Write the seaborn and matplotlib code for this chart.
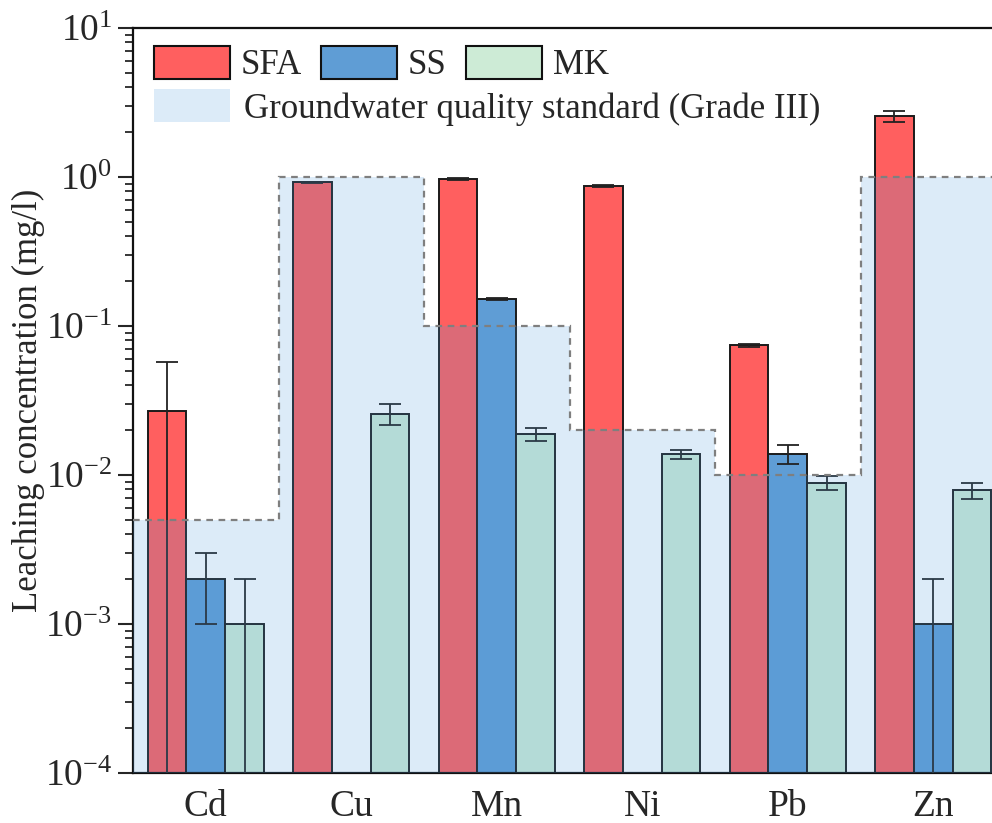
import numpy as np
import pandas as pd
import matplotlib
matplotlib.use("Agg")
import matplotlib.pyplot as plt
import seaborn as sns
from matplotlib.patches import Patch

# ---------------- data ----------------
metals = ["Cd", "Cu", "Mn", "Ni", "Pb", "Zn"]
materials = ["SFA", "SS", "MK"]
sfa = [0.027, 0.92, 0.97, 0.87, 0.074, 2.55]
sfa_err = [0.030, 0.01, 0.012, 0.008, 0.002, 0.22]
ss = [0.002, np.nan, 0.152, np.nan, 0.0138, 0.001]
ss_err = [0.001, np.nan, 0.003, np.nan, 0.002, 0.001]
mk = [0.001, 0.0258, 0.0188, 0.0138, 0.0089, 0.0079]
mk_err = [0.001, 0.004, 0.002, 0.001, 0.001, 0.001]
standard = [0.005, 1.0, 0.1, 0.02, 0.01, 1.0]
standard_label = "Groundwater quality standard (Grade III)"
ylabel = "Leaching concentration (mg/l)"

colors = {"SFA": "#ff5f5f", "SS": "#5f9dd5", "MK": "#cdebd6"}
fill_color = "#509bdc"

df = pd.DataFrame({
    "metal": metals * 3,
    "material": sum([[m] * len(metals) for m in materials], []),
    "value": sfa + ss + mk,
    "err": sfa_err + ss_err + mk_err,
})

# ---------------- style ----------------
sns.set_style("ticks")
plt.rcParams["font.family"] = ["Liberation Serif", "DejaVu Serif"]
plt.rcParams["mathtext.fontset"] = "custom"
plt.rcParams["mathtext.rm"] = "Liberation Serif"
plt.rcParams["mathtext.it"] = "Liberation Serif:italic"

fig = plt.figure(figsize=(9.92, 8.23), dpi=100)
ax = fig.add_axes([133 / 992, 50 / 823, 873 / 992, 745 / 823])

sns.barplot(data=df.dropna(subset=["value"]), x="metal", y="value", hue="material",
            order=metals, hue_order=materials, palette=colors, width=0.8,
            saturation=1, errorbar=None, edgecolor="#1a1a1a", linewidth=1.4,
            ax=ax, legend=False, zorder=2)
ax.set_yscale("log")

# error bars, positioned from the drawn bars
for container, mat in zip(ax.containers, materials):
    sub = df[df.material == mat].set_index("metal")
    for bar in container:
        cx = bar.get_x() + bar.get_width() / 2
        name = metals[int(round(cx))]
        v, e = sub.loc[name, "value"], sub.loc[name, "err"]
        if np.isnan(v):
            continue
        ax.errorbar(cx, v, yerr=e, fmt="none", ecolor="#222222",
                    elinewidth=1.3, capsize=8, capthick=1.3, zorder=3)

ax.set_ylim(1e-4, 10)
ax.set_xlim(-0.5, len(metals) - 0.5)

# groundwater standard steps
edges = np.arange(len(metals) + 1) - 0.5
ax.stairs(standard, edges, baseline=1e-4, fill=True, color=fill_color,
          alpha=0.2, linewidth=0, zorder=4)
ax.stairs(standard, edges, baseline=None, color="#7f7f7f", linestyle=(0, (3, 2.5)),
          linewidth=1.6, zorder=4.5)

# axes styling
for s in ["left", "bottom", "top"]:
    ax.spines[s].set_linewidth(1.6)
    ax.spines[s].set_color("#111111")
ax.spines["right"].set_visible(False)
ax.tick_params(axis="y", which="major", length=11, width=1.5, labelsize=27, pad=4)
ax.tick_params(axis="y", which="minor", length=6, width=1.3)
ax.tick_params(axis="x", length=0, labelsize=27, pad=12)
ax.set_xlabel("")
ax.set_ylabel(ylabel, fontsize=25)
ax.yaxis.set_label_coords(-0.101, 0.5)

# legends
h1 = [Patch(facecolor=colors[m], edgecolor="#111111", linewidth=1.5, label=m) for m in materials]
leg1 = ax.legend(handles=h1, loc="upper left", bbox_to_anchor=(0.024, 0.976), ncol=3,
                 frameon=False, fontsize=25, handlelength=2.2, handleheight=1.1,
                 handletextpad=0.3, columnspacing=0.55, borderpad=0, borderaxespad=0)
ax.add_artist(leg1)
h2 = [Patch(facecolor=fill_color, alpha=0.2, edgecolor="none", label=standard_label)]
ax.legend(handles=h2, loc="upper left", bbox_to_anchor=(0.024, 0.918), frameon=False,
          fontsize=25, handlelength=2.2, handleheight=1.1, handletextpad=0.4,
          borderpad=0, borderaxespad=0)

fig.savefig("out.png", dpi=100)
